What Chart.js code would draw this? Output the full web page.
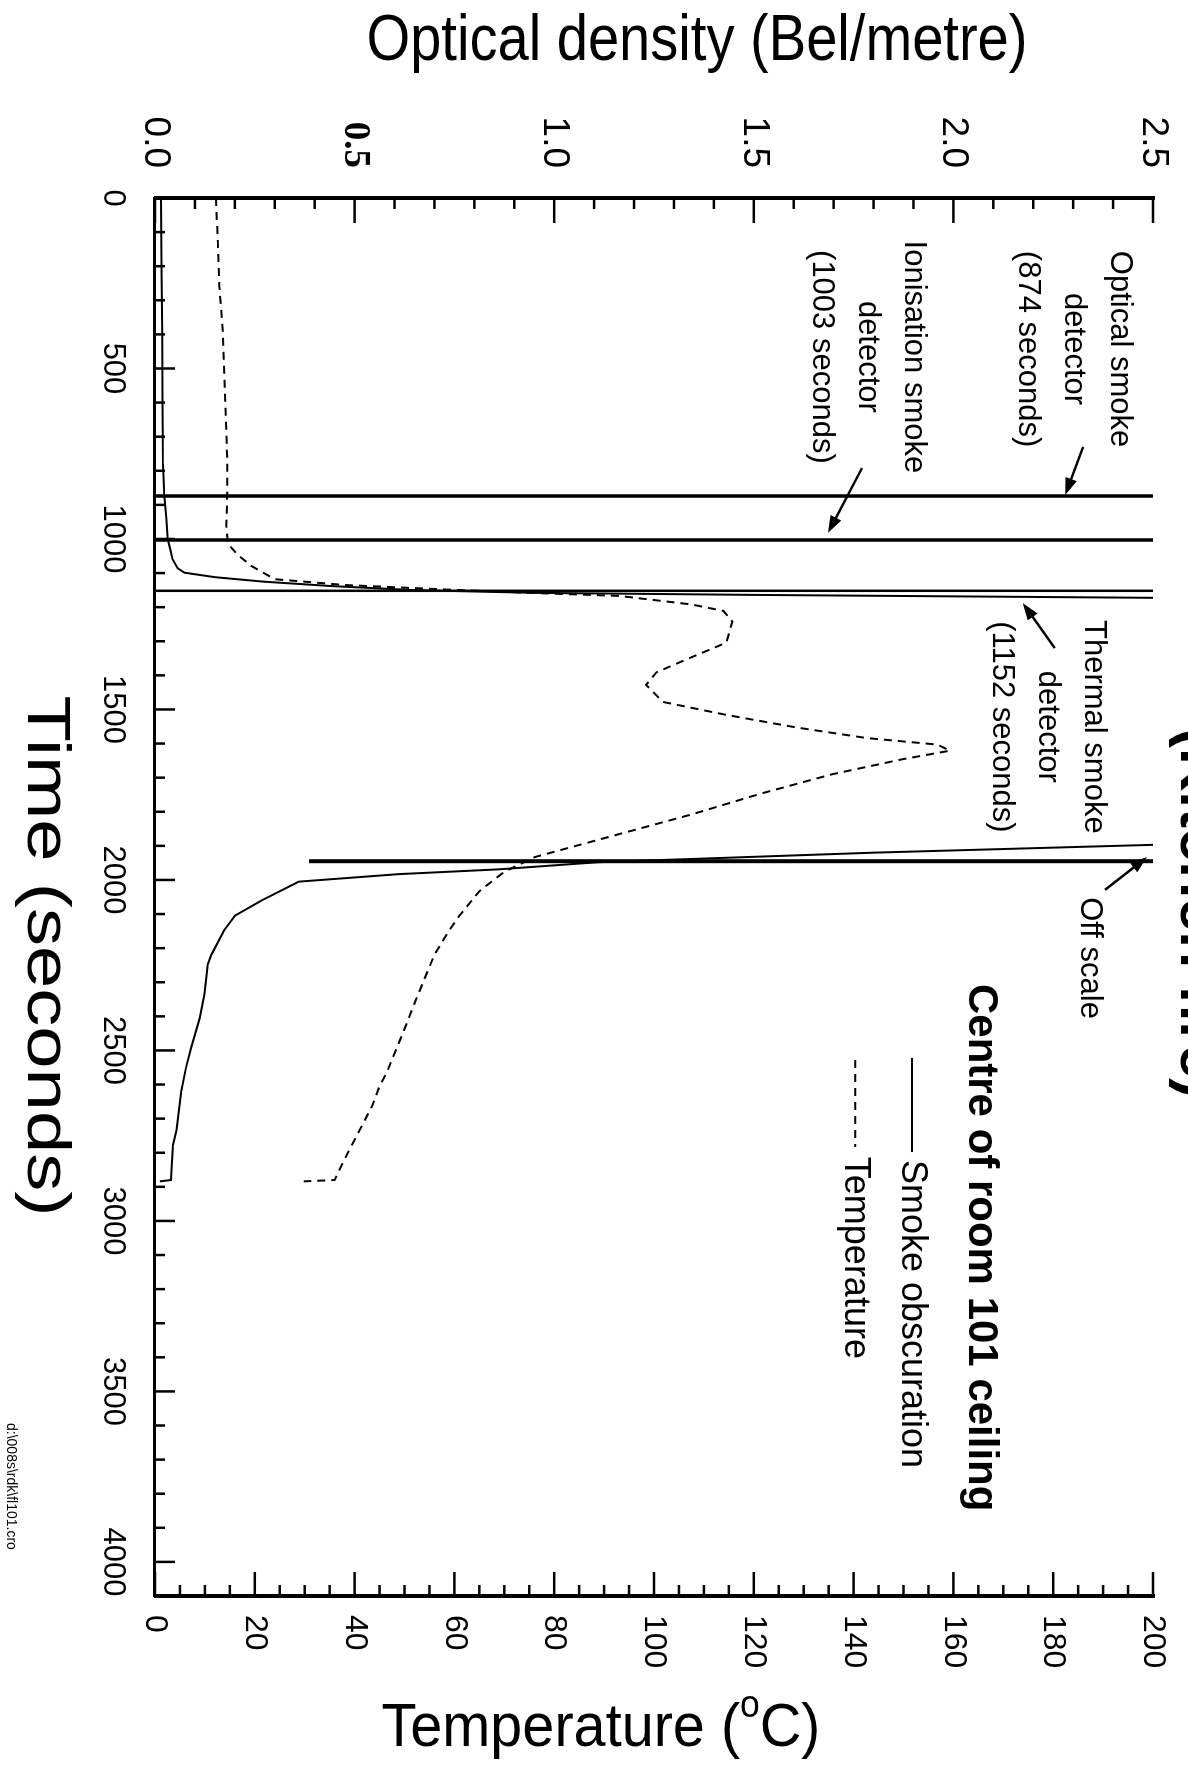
<!DOCTYPE html>
<html>
<head>
<meta charset="utf-8">
<script src="https://cdn.jsdelivr.net/npm/chart.js@4"></script>
<style>
  html, body { margin: 0; padding: 0; background: #fff; overflow: hidden; }
  /* the figure is printed sideways: draw it upright, then turn it a quarter clockwise */
  #page { position: absolute; left: 0; top: 0; width: 1778px; height: 1188px;
          transform-origin: 0 0; transform: translate(1188px, 0) rotate(90deg); }
</style>
</head>
<body>
<div id="page"><canvas id="smokeTemp" width="1778" height="1188"></canvas></div>
<script>
const FONT = '"Liberation Sans", Arial, Helvetica, sans-serif';

// axis ticks
const timeTicks = [0, 500, 1000, 1500, 2000, 2500, 3000, 3500, 4000];
const odTicks = [0, 0.5, 1.0, 1.5, 2.0, 2.5];
const tempTicks = [0, 20, 40, 60, 80, 100, 120, 140, 160, 180, 200];

// smoke obscuration, optical density (Bel/metre) - off scale between ~1175 and ~1890 s
const smokeTime = [0, 200, 400, 600, 780, 871, 936, 1001, 1030, 1060, 1086, 1099, 1112, 1125, 1138, 1150,
  1158, 1164, 1170, 1176, 1890, 1897, 1920, 1948, 1969, 1983, 2005, 2062, 2105, 2148, 2220, 2248, 2334,
  2405, 2491, 2549, 2620, 2734, 2777, 2863, 2880, 2884];
const smokeOD = [0.015, 0.016, 0.018, 0.019, 0.020, 0.023, 0.028, 0.032, 0.038, 0.044, 0.057, 0.074, 0.15, 0.27, 0.44, 0.65,
  0.95, 1.5, 2.2, 2.9, 2.9, 2.5, 1.8, 1.11, 0.86, 0.61, 0.36, 0.264, 0.2, 0.173, 0.141, 0.132, 0.124,
  0.112, 0.091, 0.078, 0.066, 0.054, 0.045, 0.041, 0.040, 0.012];

// ceiling temperature (deg C)
const tempTime = [0, 130, 260, 390, 520, 650, 780, 858, 960, 1014, 1047, 1079, 1118, 1135, 1148, 1158, 1167,
  1192, 1211, 1242, 1304, 1347, 1391, 1428, 1478, 1516, 1553, 1584, 1603, 1621, 1646, 1690, 1746, 1808,
  1864, 1933, 1976, 2033, 2105, 2147, 2219, 2290, 2362, 2419, 2491, 2563, 2605, 2663, 2720, 2776, 2834,
  2880, 2884];
const tempDegC = [12.2, 12.6, 12.9, 13.6, 13.9, 14.2, 14.5, 14.5, 14.3, 14.6, 16.6, 19.3, 24, 38, 58, 75, 93,
  107.5, 113.9, 115.7, 114.5, 107.5, 100.5, 98.4, 101.8, 114.5, 128.6, 142.7, 156.8, 159.3, 149.8, 135.7, 121.6, 107.5,
  93.4, 76.1, 70, 65, 61, 59, 56, 54, 52, 50.5, 48.5, 46.5, 45, 43.5, 41.5, 39.5, 37.5,
  36, 29.8];

// detector activation times (s)
const detectorTime = [874, 1003, 1152];
const offScaleTime = 1945;
const offScaleFromOD = 0.386;

// notes: text, where the text sits (time, OD of first line), arrow tail -> head (time, OD)
const notes = [
  { lines: ['Optical smoke', 'detector', '(874 seconds)'], t: 443, od: 2.417, arrow: [730, 2.325, 871, 2.28] },
  { lines: ['Ionisation smoke', 'detector', '(1003 seconds)'], t: 466, od: 1.899, arrow: [792, 1.771, 982, 1.686] },
  { lines: ['Thermal smoke', 'detector', '(1152 seconds)'], t: 1551, od: 2.35, arrow: [1320, 2.254, 1188, 2.174] },
  { lines: ['Off scale'], t: 2229, od: 2.342, arrow: [2029, 2.38, 1933, 2.485] }
];

const legendTitle = 'Centre of room 101 ceiling';
const legendItems = ['Smoke obscuration', 'Temperature'];

function xy(xs, ys) { return xs.map((x, i) => ({ x: x, y: ys[i] })); }
function vline(t, from, to) { return [{ x: t, y: from }, { x: t, y: to }]; }

function arrow(ctx, x1, y1, x2, y2) {
  const a = Math.atan2(y2 - y1, x2 - x1), h = 17, w = 6;
  ctx.beginPath(); ctx.moveTo(x1, y1); ctx.lineTo(x2 - h * 0.7 * Math.cos(a), y2 - h * 0.7 * Math.sin(a)); ctx.stroke();
  ctx.beginPath();
  ctx.moveTo(x2, y2);
  ctx.lineTo(x2 - h * Math.cos(a) + w * Math.sin(a), y2 - h * Math.sin(a) - w * Math.cos(a));
  ctx.lineTo(x2 - h * Math.cos(a) - w * Math.sin(a), y2 - h * Math.sin(a) + w * Math.cos(a));
  ctx.closePath(); ctx.fill();
}

function fitted(ctx, text, x, y, font, width, angle) {
  ctx.save();
  ctx.font = font;
  const w = ctx.measureText(text).width;
  ctx.translate(x, y); ctx.rotate(angle || 0); ctx.scale(width / w, 1);
  ctx.textAlign = 'center'; ctx.textBaseline = 'middle';
  ctx.fillText(text, 0, 0);
  ctx.restore();
}

const figure = {
  id: 'figure',
  afterDraw(chart) {
    const { ctx, chartArea: a, scales } = chart;
    const xs = scales.x, yo = scales.yOD, yt = scales.yT;
    const line = (x1, y1, x2, y2) => { ctx.beginPath(); ctx.moveTo(x1, y1); ctx.lineTo(x2, y2); ctx.stroke(); };
    ctx.save();
    ctx.strokeStyle = '#000'; ctx.fillStyle = '#000'; ctx.lineWidth = 2.5;

    // inward tick marks
    for (let t = 0; t <= 4100; t += 100) {
      const px = xs.getPixelForValue(t);
      line(px, a.bottom, px, a.bottom - (t % 500 === 0 ? 20 : 10));
    }
    for (let k = 0; k <= 25; k++) {
      const py = yo.getPixelForValue(k / 10);
      line(a.left, py, a.left + (k % 5 === 0 ? 25 : 11), py);
    }
    for (let v = 0; v <= 200; v += 5) {
      const py = yt.getPixelForValue(v);
      line(a.right, py, a.right - (v % 20 === 0 ? 24 : 11), py);
    }

    // notes and arrows
    ctx.font = '31px ' + FONT; ctx.textAlign = 'center'; ctx.textBaseline = 'middle';
    ctx.lineWidth = 2.5;
    notes.forEach(n => {
      const x = xs.getPixelForValue(n.t), y = yo.getPixelForValue(n.od);
      n.lines.forEach((s, i) => ctx.fillText(s, x, y + i * 46));
      const [t1, o1, t2, o2] = n.arrow;
      arrow(ctx, xs.getPixelForValue(t1), yo.getPixelForValue(o1), xs.getPixelForValue(t2), yo.getPixelForValue(o2));
    });

    // legend block
    ctx.textAlign = 'left';
    ctx.font = 'bold 42px ' + FONT;
    ctx.fillText(legendTitle, xs.getPixelForValue(2305), yo.getPixelForValue(2.067));
    ctx.font = '36px ' + FONT;
    ctx.lineWidth = 2;
    let y1 = yo.getPixelForValue(1.896), y2 = yo.getPixelForValue(1.754);
    line(xs.getPixelForValue(2522), y1, xs.getPixelForValue(2798), y1);
    ctx.fillText(legendItems[0], xs.getPixelForValue(2821), y1);
    ctx.setLineDash([8, 6]);
    line(xs.getPixelForValue(2528), y2, xs.getPixelForValue(2783), y2);
    ctx.setLineDash([]);
    ctx.fillText(legendItems[1], xs.getPixelForValue(2812), y2);

    // heading cut off at the sheet edge
    ctx.font = 'bold 60px ' + FONT; ctx.textAlign = 'center'; ctx.textBaseline = 'alphabetic';
    ctx.fillText('(Kitchen fire)', xs.getPixelForValue(2097), yo.getPixelForValue(2.57));

    // axis titles
    const midY = (a.top + a.bottom) / 2, midX = (a.left + a.right) / 2;
    fitted(ctx, 'Optical density (Bel/metre)', a.left - 156, midY - 43, '64px ' + FONT, 661, -Math.PI / 2);
    fitted(ctx, 'Time (seconds)', midX + 59, a.bottom + 110, '62px ' + FONT, 521, 0);

    // Temperature (oC) with raised o
    ctx.save();
    ctx.translate(a.right + 133, midY + 53); ctx.rotate(-Math.PI / 2);
    ctx.font = '62px ' + FONT;
    const p1 = 'Temperature (', p3 = 'C)';
    const w1 = ctx.measureText(p1).width, w3 = ctx.measureText(p3).width;
    ctx.font = '38px ' + FONT;
    const w2 = ctx.measureText('o').width;
    const total = w1 + w2 + w3;
    ctx.scale(439 / total, 1);
    ctx.textAlign = 'left'; ctx.textBaseline = 'middle';
    ctx.font = '62px ' + FONT;
    ctx.fillText(p1, -total / 2, 0);
    ctx.fillText(p3, -total / 2 + w1 + w2, 0);
    ctx.font = '38px ' + FONT;
    ctx.fillText('o', -total / 2 + w1, -22);
    ctx.restore();

    // file name in the corner
    ctx.font = '14px ' + FONT; ctx.textAlign = 'left'; ctx.textBaseline = 'middle';
    ctx.fillText('d:\\008s\\rdk\\fl101.cro', 1423, 1177);
    ctx.restore();
  }
};

const ticksFont = { family: FONT, size: 32 };
const odFont = { family: FONT, size: 37 };
// keep the plot box where the scan has it: no extra room for the end labels
const noEndPadding = s => { s.paddingTop = 0; s.paddingBottom = 0; s.paddingLeft = 0; s.paddingRight = 0; };

new Chart(document.getElementById('smokeTemp'), {
  type: 'line',
  data: {
    datasets: [
      { label: 'Smoke obscuration', data: xy(smokeTime, smokeOD), yAxisID: 'yOD',
        borderColor: '#000', borderWidth: 2, pointRadius: 0, tension: 0 },
      { label: 'Temperature', data: xy(tempTime, tempDegC), yAxisID: 'yT',
        borderColor: '#000', borderWidth: 2, borderDash: [8, 6], pointRadius: 0, tension: 0 },
      { data: vline(detectorTime[0], 0, 2.5), yAxisID: 'yOD', borderColor: '#000', borderWidth: 3.5, pointRadius: 0 },
      { data: vline(detectorTime[1], 0, 2.5), yAxisID: 'yOD', borderColor: '#000', borderWidth: 3.5, pointRadius: 0 },
      { data: vline(detectorTime[2], 0, 2.5), yAxisID: 'yOD', borderColor: '#000', borderWidth: 2.5, pointRadius: 0 },
      { data: vline(offScaleTime, offScaleFromOD, 2.5), yAxisID: 'yOD', borderColor: '#000', borderWidth: 4, pointRadius: 0 }
    ]
  },
  options: {
    responsive: false,
    animation: false,
    devicePixelRatio: 1,
    events: [],
    layout: { padding: { top: 35, left: 0, right: 0, bottom: 0 } },
    plugins: { legend: { display: false }, tooltip: { enabled: false } },
    scales: {
      x: {
        type: 'linear', position: 'bottom', min: 0, max: 4100,
        afterBuildTicks: s => { s.ticks = timeTicks.map(v => ({ value: v })); },
        afterFit: s => { s.height = 155; noEndPadding(s); },
        grid: { display: false, drawTicks: false },
        border: { display: true, color: '#000', width: 3 },
        ticks: { color: '#000', font: { family: FONT, size: 31 }, padding: 24, maxRotation: 0, autoSkip: false,
                 callback: v => String(v) }
      },
      yOD: {
        type: 'linear', position: 'left', min: 0, max: 2.5,
        afterBuildTicks: s => { s.ticks = odTicks.map(v => ({ value: v })); },
        afterFit: s => { s.width = 198; noEndPadding(s); },
        grid: { display: false, drawTicks: false },
        border: { display: true, color: '#000', width: 4 },
        ticks: {
          color: '#000', padding: 30, autoSkip: false,
          font: c => (c.tick && c.tick.value === 0.5)
            ? { family: '"Liberation Serif", "Times New Roman", serif', weight: 'bold', size: 37 }
            : odFont,
          callback: v => v.toFixed(1)
        }
      },
      yT: {
        type: 'linear', position: 'right', min: 0, max: 200,
        afterBuildTicks: s => { s.ticks = tempTicks.map(v => ({ value: v })); },
        afterFit: s => { s.width = 182; noEndPadding(s); },
        grid: { display: false, drawTicks: false },
        border: { display: true, color: '#000', width: 4 },
        ticks: { color: '#000', padding: 19, autoSkip: false, font: ticksFont, callback: v => String(v) }
      }
    }
  },
  plugins: [figure]
});
</script>
</body>
</html>
